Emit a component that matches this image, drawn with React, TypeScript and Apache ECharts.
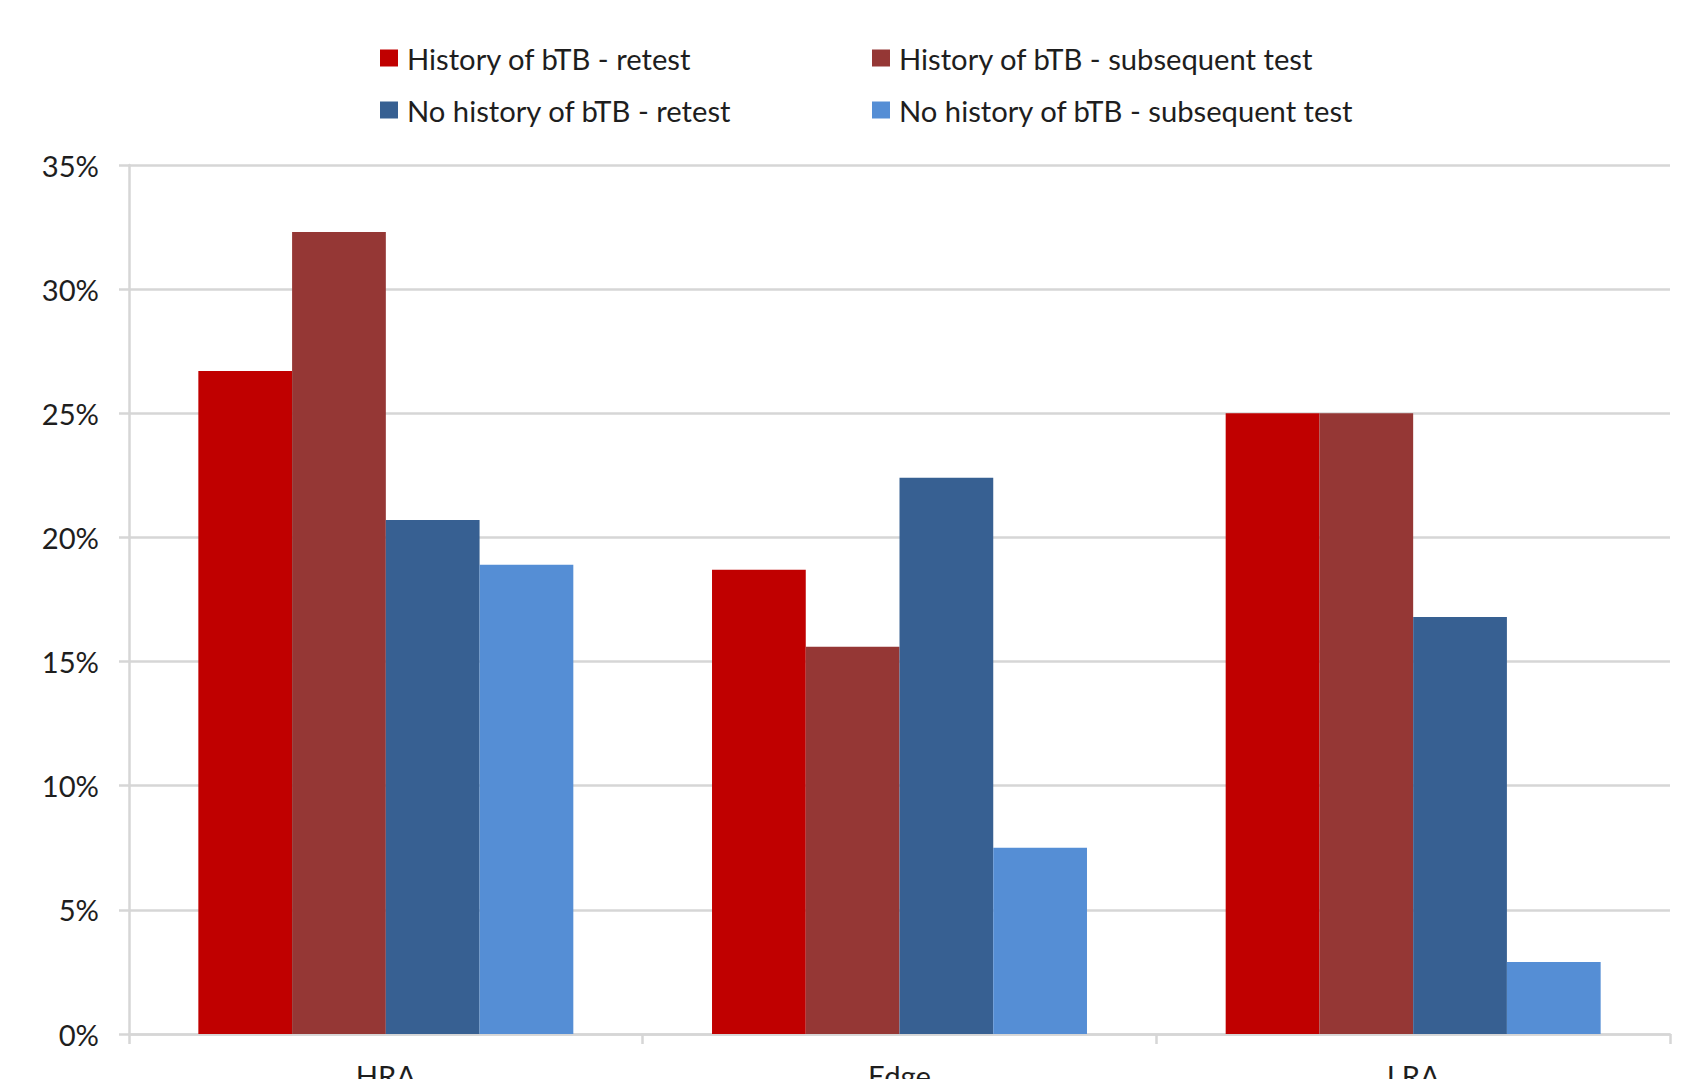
import React, { useEffect, useRef } from "react";
import * as echarts from "echarts";

// Regions along the x axis
const categories = ["HRA", "Edge", "LRA"];

// Series names, in legend order
const seriesNames = [
  "History of bTB - retest",
  "History of bTB - subsequent test",
  "No history of bTB - retest",
  "No history of bTB - subsequent test",
];

// Percentages per region (HRA, Edge, LRA)
const historyRetest = [26.7, 18.7, 25.0];
const historySubsequent = [32.3, 15.6, 25.0];
const noHistoryRetest = [20.7, 22.4, 16.8];
const noHistorySubsequent = [18.9, 7.5, 2.9];

// Value axis range and step, in percent
const yMin = 0;
const yMax = 35;
const yStep = 5;

const seriesColors = ["#C00000", "#953735", "#376092", "#558ED5"];

const FONT = "Lato, 'Open Sans', sans-serif";
const FONT_SIZE = 29.2;
const TEXT_COLOR = "#1e1e1e";
const LINE_COLOR = "#d6d6d6";

export default function App() {
  const ref = useRef<HTMLDivElement>(null);

  useEffect(() => {
    if (!ref.current) return;
    const chart = echarts.init(ref.current, undefined, { renderer: "svg" });

    const values = [historyRetest, historySubsequent, noHistoryRetest, noHistorySubsequent];

    const legendText = {
      fontFamily: FONT,
      fontSize: FONT_SIZE,
      lineHeight: 30,
      color: TEXT_COLOR,
      padding: [0, 0, 0, 4],
    };

    const legendBase = {
      orient: "vertical",
      top: 43,
      icon: "rect",
      itemWidth: 18,
      itemHeight: 17,
      itemGap: 22,
      padding: 0,
      selectedMode: false,
      textStyle: legendText,
    };

    chart.setOption({
      animation: false,
      backgroundColor: "#ffffff",
      textStyle: { fontFamily: FONT },
      legend: [
        { ...legendBase, left: 380, data: [seriesNames[0], seriesNames[2]] },
        { ...legendBase, left: 872, data: [seriesNames[1], seriesNames[3]] },
      ],
      grid: {
        left: 129,
        right: 11,
        top: 165,
        bottom: 45,
        containLabel: false,
        // the category labels run past the lower edge of the canvas
        outerBoundsMode: "none",
      },
      xAxis: {
        type: "category",
        data: categories,
        boundaryGap: true,
        axisLine: { show: true, lineStyle: { color: LINE_COLOR, width: 2.5 } },
        axisTick: {
          show: true,
          alignWithLabel: false,
          length: 10,
          lineStyle: { color: LINE_COLOR, width: 2.5 },
        },
        axisLabel: {
          margin: 27,
          fontFamily: FONT,
          fontSize: FONT_SIZE,
          color: TEXT_COLOR,
        },
      },
      yAxis: {
        type: "value",
        min: yMin,
        max: yMax,
        interval: yStep,
        axisLine: { show: true, lineStyle: { color: LINE_COLOR, width: 2.5 } },
        axisTick: { show: true, length: 10, lineStyle: { color: LINE_COLOR, width: 2.5 } },
        splitLine: { show: true, lineStyle: { color: LINE_COLOR, width: 2.5 } },
        axisLabel: {
          margin: 30,
          fontFamily: FONT,
          fontSize: FONT_SIZE,
          color: TEXT_COLOR,
          formatter: (v: number) => `${v}%`,
        },
      },
      series: seriesNames.map((name, i) => ({
        name,
        type: "bar",
        data: values[i],
        barGap: "0%",
        barCategoryGap: "27%",
        itemStyle: { color: seriesColors[i] },
      })),
    });

    return () => chart.dispose();
  }, []);

  return (
    <div
      ref={ref}
      style={{ position: "fixed", left: 0, top: 0, width: 1681, height: 1079 }}
    />
  );
}
